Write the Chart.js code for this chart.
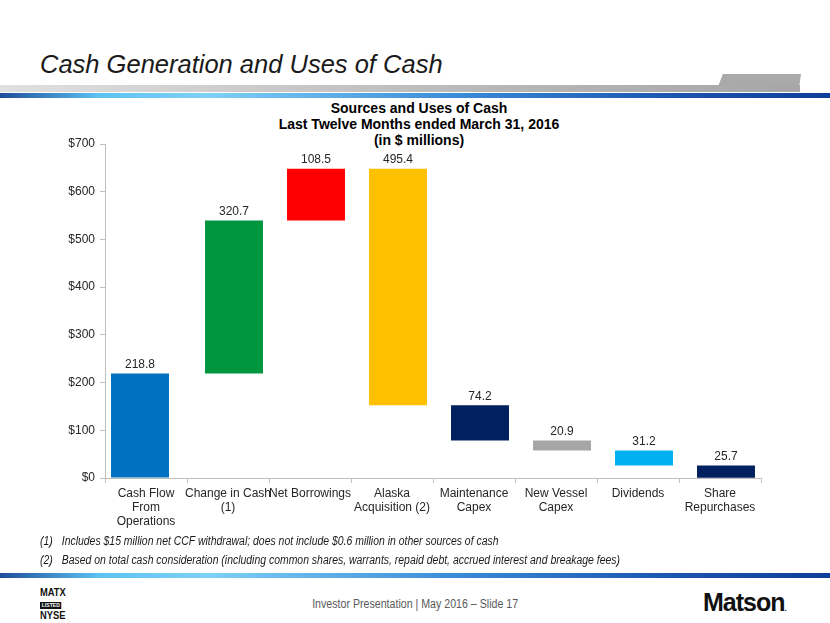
<!DOCTYPE html>
<html>
<head>
<meta charset="utf-8">
<script src="https://cdn.jsdelivr.net/npm/chart.js@4/dist/chart.umd.min.js"></script>
<style>
  html, body { margin:0; padding:0; background:#fff; }
  body { width:830px; height:623px; position:relative; overflow:hidden; font-family:"Liberation Sans", Arial, sans-serif; }
  .abs { position:absolute; }
  #slideTitle { left:40px; top:50px; font-size:25.5px; font-style:italic; color:#1a1a1a; white-space:nowrap; }
  #grayBand { left:0; top:85px; width:800px; height:7px; background:linear-gradient(to right,#e0e0e0,#b8b8b8 60%,#a6a6a6); }
  #grayTab { left:716px; top:74px; width:85px; height:18px; background:#a9a9a9; clip-path:polygon(8% 0,100% 0,97% 100%,0 100%); }
  .blueLine { left:0; width:830px; height:5px; background:linear-gradient(to right,#1f4e9c 0%,#5cc3f2 12%,#7fd0f5 25%,#3a8bd8 55%,#1d56b3 80%,#0f3d9a 100%); }
  #chartBox { left:0; top:130px; width:830px; height:420px; }
  #chartTitle { left:4px; width:830px; top:100px; text-align:center; font-weight:bold; font-size:14px; line-height:16px; color:#000; }
  .note { left:40px; font-style:italic; font-size:12px; color:#1a1a1a; white-space:nowrap; transform:scaleX(0.87); transform-origin:0 0; }
  .note span { display:inline-block; width:25px; }
  #footer { left:0; width:830px; top:597px; text-align:center; font-size:12.5px; color:#595959; }
  #footer span { display:inline-block; transform:scaleX(0.85); transform-origin:50% 0; white-space:nowrap; }
  #matson { left:703px; top:588px; font-weight:bold; font-size:25px; letter-spacing:-1px; color:#111; }
  #matson small { font-size:8px; letter-spacing:0; }
  #nyse { left:40px; top:587px; width:30px; font-weight:bold; font-size:11px; line-height:11px; color:#111; text-align:left; transform:scaleX(0.85); transform-origin:0 0; }
  #nyse .listed { display:inline-block; background:#111; color:#fff; font-size:6px; line-height:7px; padding:0 2px; margin:1px 0; }
</style>
</head>
<body>
<div id="slideTitle" class="abs">Cash Generation and Uses of Cash</div>
<div id="grayTab" class="abs"></div>
<div id="grayBand" class="abs"></div>
<div class="abs blueLine" style="top:93px;"></div>
<div id="chartTitle" class="abs">Sources and Uses of Cash<br>Last Twelve Months ended March 31, 2016<br>(in $ millions)</div>
<div id="chartBox" class="abs"><canvas id="c" width="830" height="420"></canvas></div>
<div class="abs note" style="top:534px;"><span>(1)</span>Includes $15 million net CCF withdrawal; does not include $0.6 million in other sources of cash</div>
<div class="abs note" style="top:553px;"><span>(2)</span>Based on total cash consideration (including common shares, warrants, repaid debt, accrued interest and breakage fees)</div>
<div class="abs blueLine" style="top:573px;"></div>
<div id="nyse" class="abs">MATX<br><span class="listed">LISTED</span><br>NYSE</div>
<div id="footer" class="abs"><span>Investor Presentation | May 2016 – Slide 17</span></div>
<div id="matson" class="abs">Matson<small>.</small></div>

<script>
// ---- data ----
const categories = [
  ["Cash Flow", "From", "Operations"],
  ["Change in Cash", "(1)"],
  ["Net Borrowings"],
  ["Alaska", "Acquisition (2)"],
  ["Maintenance", "Capex"],
  ["New Vessel", "Capex"],
  ["Dividends"],
  ["Share", "Repurchases"]
];
const amounts = [218.8, 320.7, 108.5, 495.4, 74.2, 20.9, 31.2, 25.7];
const flowSign = [1, 1, 1, -1, -1, -1, -1, -1]; // source (+) or use (-)
const barColors = ["#0070C0", "#00963F", "#FF0000", "#FFC000", "#002060", "#A6A6A6", "#00B0F0", "#002060"];
const yTickValues = [0, 100, 200, 300, 400, 500, 600, 700];

// ---- waterfall ranges built from the amounts ----
const ranges = [];
let running = 0;
amounts.forEach((a, i) => {
  const start = running;
  running = Math.round((running + flowSign[i] * a) * 10) / 10;
  ranges.push([start, running]);
});
const firstSeries = ranges.map((r, i) => i === 0 ? r : null);
const restSeries = ranges.map((r, i) => i === 0 ? null : r);

const valueLabels = {
  id: 'valueLabels',
  afterDatasetsDraw(chart) {
    const ctx = chart.ctx;
    const ys = chart.scales.y;
    ctx.save();
    ctx.font = '12px "Liberation Sans", Arial, sans-serif';
    ctx.fillStyle = '#262626';
    ctx.textAlign = 'center';
    ctx.textBaseline = 'middle';
    chart.data.datasets.forEach((ds, di) => {
      const meta = chart.getDatasetMeta(di);
      meta.data.forEach((el, i) => {
        const r = ds.data[i];
        if (!r) return;
        const top = ys.getPixelForValue(Math.max(r[0], r[1]));
        ctx.fillText(amounts[i].toFixed(1), el.x, top - 9);
      });
    });
    ctx.restore();
  }
};

new Chart(document.getElementById('c'), {
  type: 'bar',
  data: {
    labels: categories,
    datasets: [
      { data: firstSeries, backgroundColor: barColors, borderWidth: 0 },
      { data: restSeries, backgroundColor: barColors, borderWidth: 0 }
    ]
  },
  options: {
    responsive: false,
    animation: false,
    devicePixelRatio: 1,
    categoryPercentage: 0.2927,
    barPercentage: 4.83,
    layout: { padding: { top: 14, right: 69, bottom: 22, left: 0 } },
    plugins: { legend: { display: false }, tooltip: { enabled: false }, title: { display: false } },
    scales: {
      x: {
        grid: { drawOnChartArea: false, drawTicks: true, tickLength: 5, color: '#bfbfbf', offset: true },
        border: { color: '#bfbfbf' },
        ticks: { color: '#262626', font: { family: '"Liberation Sans", Arial, sans-serif', size: 12 }, maxRotation: 0, autoSkip: false, padding: 3 },
        afterFit(s) { s.height = 50; }
      },
      y: {
        min: 0, max: 700,
        afterBuildTicks(s) { s.ticks = yTickValues.map(v => ({ value: v })); },
        grid: { drawOnChartArea: false, drawTicks: true, tickLength: 5, color: '#bfbfbf' },
        border: { color: '#bfbfbf' },
        ticks: { color: '#262626', font: { family: '"Liberation Sans", Arial, sans-serif', size: 12 }, padding: 5, callback: v => '$' + v },
        afterFit(s) { s.width = 105; }
      }
    }
  },
  plugins: [valueLabels]
});
</script>
</body>
</html>
